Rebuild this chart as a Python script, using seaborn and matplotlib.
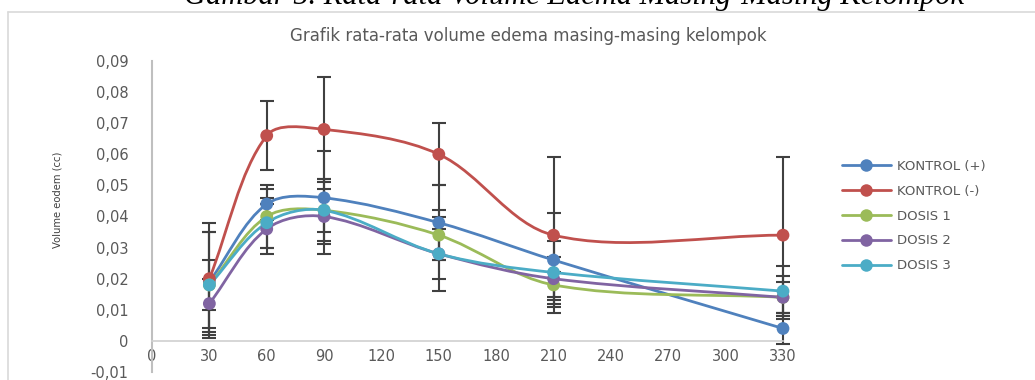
"""
Mean edema volume per group over time (smoothed Excel-style lines with error bars).
"""

import matplotlib.pyplot as plt
import numpy as np
import pandas as pd
import seaborn as sns
from matplotlib.lines import Line2D
from matplotlib.patches import PathPatch
from matplotlib.path import Path
from matplotlib.ticker import FuncFormatter

# --- data ---------------------------------------------------------------
minutes = [30, 60, 90, 150, 210, 330]
groups = ["KONTROL (+)", "KONTROL (-)", "DOSIS 1", "DOSIS 2", "DOSIS 3"]

kontrol_pos = [0.019, 0.044, 0.046, 0.038, 0.026, 0.004]
kontrol_neg = [0.020, 0.066, 0.068, 0.060, 0.034, 0.034]
dosis_1 = [0.018, 0.040, 0.042, 0.034, 0.018, 0.014]
dosis_2 = [0.012, 0.036, 0.040, 0.028, 0.020, 0.014]
dosis_3 = [0.018, 0.038, 0.042, 0.028, 0.022, 0.016]

err_kontrol_pos = [0.016, 0.005, 0.015, 0.012, 0.015, 0.005]
err_kontrol_neg = [0.018, 0.011, 0.017, 0.010, 0.025, 0.025]
err_dosis_1 = [0.017, 0.010, 0.010, 0.008, 0.004, 0.005]
err_dosis_2 = [0.008, 0.008, 0.012, 0.008, 0.007, 0.007]
err_dosis_3 = [0.008, 0.008, 0.007, 0.012, 0.010, 0.008]

x_ticks = [0, 30, 60, 90, 120, 150, 180, 210, 240, 270, 300, 330]
y_ticks = [-0.01, 0, 0.01, 0.02, 0.03, 0.04, 0.05, 0.06, 0.07, 0.08, 0.09]

colors = ["#4F81BD", "#C0504D", "#9BBB59", "#8064A2", "#4BACC6"]

values = [kontrol_pos, kontrol_neg, dosis_1, dosis_2, dosis_3]
errors = [err_kontrol_pos, err_kontrol_neg, err_dosis_1, err_dosis_2, err_dosis_3]

df = pd.DataFrame(
    [
        {"group": g, "minute": m, "volume": v, "err": e}
        for g, vals, errs in zip(groups, values, errors)
        for m, v, e in zip(minutes, vals, errs)
    ]
)


def smooth_path(ax, x, y):
    """Cubic Bezier path through the points (like Excel's 'smoothed line').
    Tangents are weighted by on-screen segment lengths, then mapped back."""
    pts = ax.transData.transform(np.column_stack([x, y]).astype(float))
    padded = np.vstack([pts[0], pts, pts[-1]])
    verts = [pts[0]]
    codes = [Path.MOVETO]
    for i in range(len(pts) - 1):
        p0, p1, p2, p3 = padded[i], padded[i + 1], padded[i + 2], padded[i + 3]
        d1 = np.hypot(*(p1 - p0))
        d2 = np.hypot(*(p2 - p1))
        d3 = np.hypot(*(p3 - p2))
        w1 = d2 / (d1 + d2) if d1 + d2 > 0 else 0.5
        w2 = d2 / (d2 + d3) if d2 + d3 > 0 else 0.5
        c1 = p1 + (p2 - p0) * w1 / 3
        c2 = p2 - (p3 - p1) * w2 / 3
        verts += [c1, c2, p2]
        codes += [Path.CURVE4] * 3
    data_verts = ax.transData.inverted().transform(np.array(verts))
    return Path(data_verts, codes)


sns.set_theme(style="white")
plt.rcParams["font.family"] = ["DejaVu Sans"]

fig = plt.figure(figsize=(10.35, 3.8), dpi=100)
ax = fig.add_axes([152 / 1035, 1 - 372 / 380, (783 - 152) / 1035, (372 - 61) / 380])
ax.set_xlim(0, 330)
ax.set_ylim(-0.01, 0.09)

# chart frame and the clipped caption above it
fig.add_artist(Line2D([8 / 1035, 8 / 1035], [0, 1 - 12 / 380], color="#d9d9d9", lw=1.2,
                      transform=fig.transFigure))
fig.add_artist(Line2D([8 / 1035, 1], [1 - 12 / 380, 1 - 12 / 380], color="#d9d9d9", lw=1.2,
                      transform=fig.transFigure))
fig.text(574 / 1035, 1 - 4 / 380, "Gambar 5. Rata-rata Volume Edema Masing-Masing Kelompok",
         ha="center", va="baseline", fontsize=22, style="italic",
         family=["Liberation Serif"], color="black")

for g, c in zip(groups, colors):
    sub = df[df["group"] == g]
    ax.errorbar(sub["minute"], sub["volume"], yerr=sub["err"], fmt="none",
                ecolor="#404040", elinewidth=1.5, capsize=5, capthick=1.5,
                zorder=2, clip_on=False)

for g, c in zip(groups, colors):
    sub = df[df["group"] == g]
    ax.add_patch(PathPatch(smooth_path(ax, sub["minute"], sub["volume"]), fill=False,
                           edgecolor=c, lw=2.0, zorder=3, clip_on=False))
    sns.scatterplot(data=sub, x="minute", y="volume", color=c, s=85,
                    edgecolor="none", ax=ax, zorder=4, clip_on=False, legend=False)

ax.set_xlim(0, 330)
ax.set_ylim(-0.01, 0.09)
ax.set_xticks(x_ticks)
ax.set_yticks(y_ticks)
ax.yaxis.set_major_formatter(
    FuncFormatter(lambda v, _: "0" if abs(v) < 1e-9 else f"{v:.2f}".replace(".", ","))
)

for side in ["top", "right"]:
    ax.spines[side].set_visible(False)
ax.spines["left"].set_color("#bfbfbf")
ax.spines["left"].set_linewidth(1.5)
ax.spines["bottom"].set_position(("data", 0))
ax.spines["bottom"].set_color("#d0d0d0")
ax.spines["bottom"].set_linewidth(1.2)
ax.tick_params(axis="both", length=0, colors="#595959", labelsize=10.5)
ax.tick_params(axis="y", pad=17)
ax.tick_params(axis="x", pad=6)
ax.set_xlabel("")
ax.set_ylabel("")
ax.grid(False)

fig.text(57 / 1035, 1 - 200 / 380, "Volume eodem (cc)", rotation=90, ha="center",
         va="center", fontsize=7.2, color="#404040")
fig.text(528 / 1035, 1 - 36 / 380, "Grafik rata-rata volume edema masing-masing kelompok",
         ha="center", va="center", fontsize=12, color="#595959")

handles = [
    Line2D([0], [0], color=c, lw=2.0, marker="o", markersize=9, markeredgecolor="none")
    for c in colors
]
ax.legend(handles, groups, loc="center left", bbox_to_anchor=(842 / 1035, 1 - 216 / 380),
          bbox_transform=fig.transFigure, frameon=False, fontsize=9.5,
          labelcolor="#595959", handlelength=3.7, handletextpad=0.5,
          labelspacing=0.9, borderpad=0, borderaxespad=0)

plt.savefig("out.png", dpi=100)
plt.close(fig)
